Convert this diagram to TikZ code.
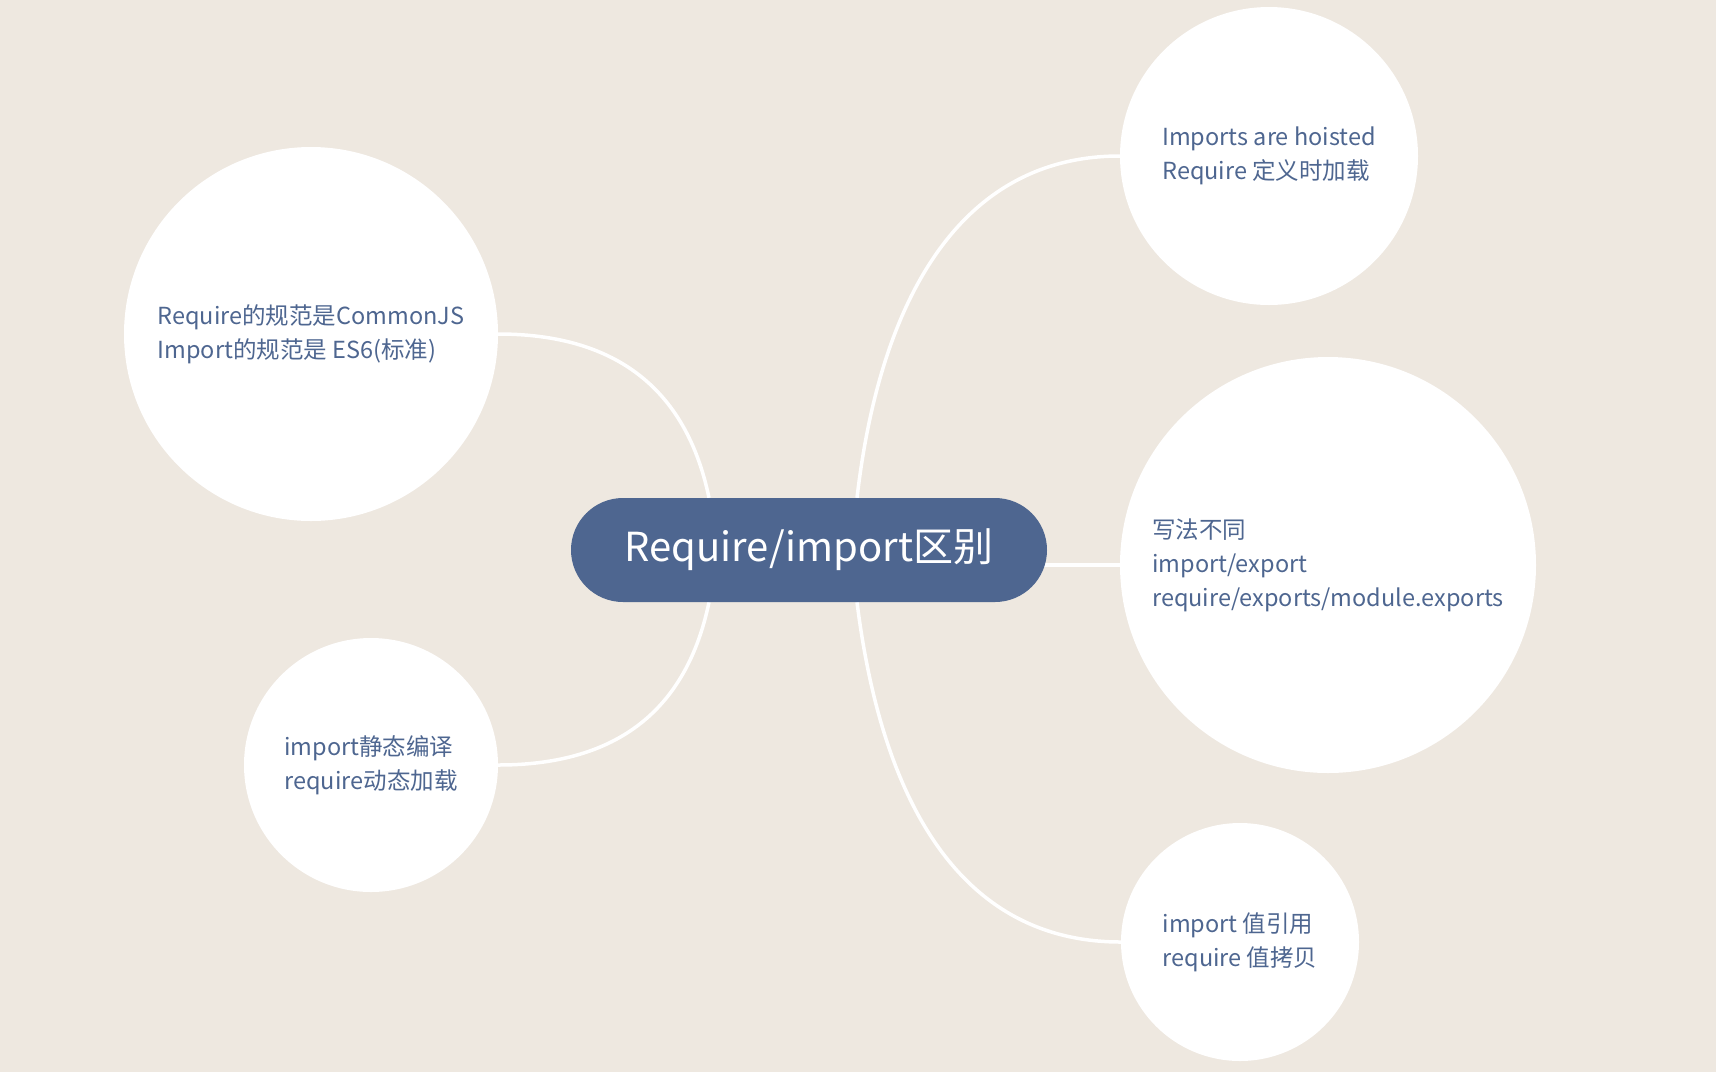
\documentclass[tikz,border=0pt]{standalone}
\usepackage{fontspec}
\setmainfont{Noto Sans CJK SC}
\usetikzlibrary{positioning,calc,backgrounds}
\definecolor{mmbg}{HTML}{EEE8E0}
\definecolor{mmblue}{HTML}{4E6690}

\begin{document}
\begin{tikzpicture}[x=1pt,y=-1pt,
  topic/.style={rectangle,rounded corners=52pt,fill=mmblue,text=white,
                minimum width=476pt,minimum height=104pt,
                font=\fontsize{40}{48}\selectfont},
  bubble/.style={circle,fill=white,inner sep=0pt,align=left,text=mmblue,
                 font=\fontsize{23.5}{34}\selectfont},
  link/.style={white,line width=3.5pt}
]

  % ---- Central topic -----------------------------------------
  \node[topic] (main) at (809,550) {Require/import区别};

  % ---- Subtopic bubbles --------------------------------------
  \node[bubble,minimum size=374pt] (spec) at (311,334)
    {Require的规范是CommonJS\\Import的规范是 ES6(标准)};
  \node[bubble,minimum size=254pt] (compile) at (371,765)
    {import静态编译\\require动态加载};
  \node[bubble,minimum size=298pt] (hoist) at (1269,156)
    {Imports are hoisted\\Require 定义时加载};
  \node[bubble,minimum size=416pt] (syntax) at (1328,565)
    {写法不同\\import/export\\require/exports/module.exports};
  \node[bubble,minimum size=238pt] (value) at (1240,942)
    {import 值引用\\require 值拷贝};

  % Branch roots on the topic
  \coordinate (lt) at ([xshift=-100pt]main.north);
  \coordinate (lb) at ([xshift=-100pt]main.south);
  \coordinate (rt) at ([xshift=48pt]main.north);
  \coordinate (rb) at ([xshift=48pt]main.south);
  \coordinate (rm) at ([xshift=-10pt]main.east |- syntax.west);

  % ---- Canvas and branches (behind the nodes) ----------------
  \begin{scope}[on background layer]
    \fill[mmbg] (0,0) rectangle (1716,1072);
    \draw[link] (lt) .. controls +(-25,-120) and +(105,0) .. (spec.east);
    \draw[link] (lb) .. controls +(-25,120) and +(105,0) .. (compile.east);
    \draw[link] (rt) .. controls +(23,-198) and +(-160,0) .. (hoist.west);
    \draw[link] (rm) -- (syntax.west);
    \draw[link] (rb) .. controls +(25,200) and +(-160,0) .. (value.west);
  \end{scope}
  \useasboundingbox (0,0) rectangle (1716,1072);

\end{tikzpicture}
\end{document}
